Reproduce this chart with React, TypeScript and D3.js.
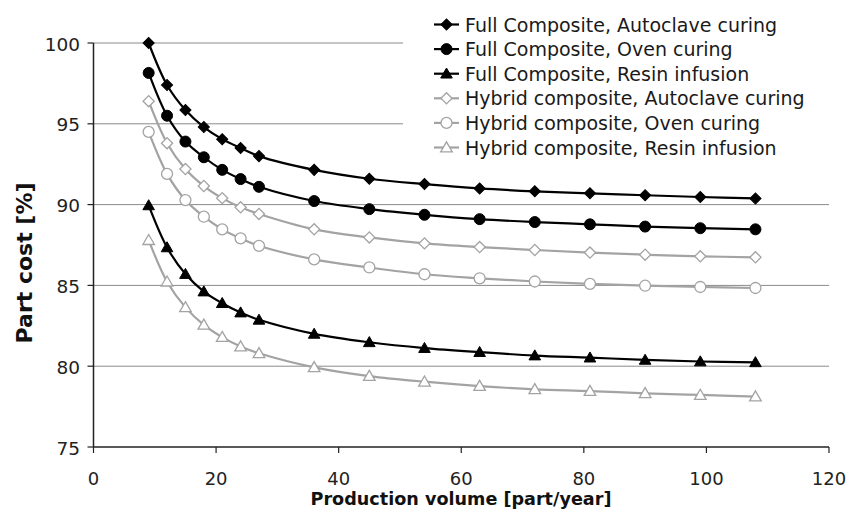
import { useMemo } from "react";
import * as d3 from "d3";

const volumes = [9, 12, 15, 18, 21, 24, 27, 36, 45, 54, 63, 72, 81, 90, 99, 108];

const fullAutoclave = [100, 97.4, 95.85, 94.8, 94.05, 93.5, 93.0, 92.15, 91.6, 91.27, 91.0, 90.82, 90.7, 90.58, 90.47, 90.38];
const fullOven = [98.15, 95.5, 93.9, 92.93, 92.15, 91.58, 91.1, 90.22, 89.72, 89.37, 89.1, 88.92, 88.78, 88.64, 88.54, 88.47];
const fullResin = [89.95, 87.35, 85.7, 84.62, 83.9, 83.32, 82.87, 82.0, 81.48, 81.12, 80.87, 80.66, 80.53, 80.39, 80.29, 80.24];
const hybridAutoclave = [96.4, 93.8, 92.2, 91.15, 90.4, 89.83, 89.42, 88.47, 87.97, 87.6, 87.37, 87.19, 87.03, 86.9, 86.8, 86.74];
const hybridOven = [94.5, 91.9, 90.28, 89.25, 88.47, 87.91, 87.45, 86.61, 86.11, 85.69, 85.44, 85.24, 85.09, 84.98, 84.9, 84.84];
const hybridResin = [87.8, 85.23, 83.64, 82.56, 81.8, 81.22, 80.8, 79.93, 79.39, 79.04, 78.77, 78.57, 78.46, 78.32, 78.22, 78.12];

const seriesNames = [
  "Full Composite, Autoclave curing",
  "Full Composite, Oven curing",
  "Full Composite, Resin infusion",
  "Hybrid composite, Autoclave curing",
  "Hybrid composite, Oven curing",
  "Hybrid composite, Resin infusion",
];
const seriesValues = [fullAutoclave, fullOven, fullResin, hybridAutoclave, hybridOven, hybridResin];
const seriesMarkers = ["diamond", "circle", "triangle", "diamond", "circle", "triangle"];
const seriesHollow = [false, false, false, true, true, true];

const xTicks = [0, 20, 40, 60, 80, 100, 120];
const yTicks = [75, 80, 85, 90, 95, 100];

const WIDTH = 858;
const HEIGHT = 512;
const FONT = "'DejaVu Sans', Verdana, sans-serif";
const BLACK = "#000";
const GREY = "#a3a3a3";

const markerPath = (kind: string) => {
  if (kind === "diamond") return d3.symbol().type(d3.symbolSquare).size(62)() as string;
  if (kind === "circle") return d3.symbol().type(d3.symbolCircle).size(95)() as string;
  return d3.symbol().type(d3.symbolTriangle).size(58)() as string;
};

const Marker = ({ kind, hollow, x, y }: { kind: string; hollow: boolean; x: number; y: number }) => {
  const rot = kind === "diamond" ? " rotate(45)" : "";
  const dy = kind === "triangle" ? 1 : 0;
  return (
    <path
      d={markerPath(kind)}
      transform={`translate(${x},${y + dy})${rot}`}
      fill={hollow ? "#fff" : BLACK}
      stroke={hollow ? GREY : BLACK}
      strokeWidth={hollow ? 1.3 : 1}
    />
  );
};

const App = () => {
  const x = d3.scaleLinear().domain([0, 120]).range([93.5, 829]);
  const y = d3.scaleLinear().domain([75, 100]).range([447, 43]);

  const line = useMemo(
    () =>
      d3
        .line<number>()
        .x((_, i) => x(volumes[i]))
        .y((d) => y(d))
        .curve(d3.curveCatmullRom.alpha(0.5)),
    []
  );

  return (
    <svg
      width={WIDTH}
      height={HEIGHT}
      style={{ position: "absolute", left: 0, top: 0, background: "#fff" }}
      fontFamily={FONT}
    >
      {/* gridlines */}
      {yTicks.filter((t) => t > 75).map((t) => (
        <line key={t} x1={x(0)} x2={x(120)} y1={y(t)} y2={y(t)} stroke="#8a8a8a" strokeWidth={1} />
      ))}

      {/* legend background hides part of the top gridlines */}
      <rect x={403} y={4} width={430} height={158} fill="#fff" />

      {/* axes */}
      <line x1={x(0)} x2={x(0)} y1={y(100)} y2={y(75)} stroke="#222" strokeWidth={1.5} />
      <line x1={x(0)} x2={x(120)} y1={y(75)} y2={y(75)} stroke="#222" strokeWidth={1.5} />
      {yTicks.map((t) => (
        <g key={t}>
          <line x1={x(0) - 6} x2={x(0)} y1={y(t)} y2={y(t)} stroke="#222" strokeWidth={1.2} />
          <text x={80} y={y(t) + 7.5} textAnchor="end" fontSize={18.5} fill="#222">
            {t}
          </text>
        </g>
      ))}
      {xTicks.map((t) => (
        <g key={t}>
          <line x1={x(t)} x2={x(t)} y1={y(75)} y2={y(75) + 6} stroke="#222" strokeWidth={1.2} />
          <text x={x(t)} y={485} textAnchor="middle" fontSize={18} fill="#222">
            {t}
          </text>
        </g>
      ))}

      {/* axis titles */}
      <text x={461} y={505} textAnchor="middle" fontSize={17.6} fontWeight="bold" fill="#111">
        Production volume [part/year]
      </text>
      <text
        transform="translate(32,263) rotate(-90)"
        textAnchor="middle"
        fontSize={22}
        fontWeight="bold"
        fill="#111"
      >
        Part cost [%]
      </text>

      {/* series: grey ones first so black sit on top */}
      {[3, 4, 5, 0, 1, 2].map((s) => {
        const color = seriesHollow[s] ? GREY : BLACK;
        return (
          <g key={s}>
            <path d={line(seriesValues[s]) as string} fill="none" stroke={color} strokeWidth={2.2} />
            {seriesValues[s].map((v, i) => (
              <Marker key={i} kind={seriesMarkers[s]} hollow={seriesHollow[s]} x={x(volumes[i])} y={y(v)} />
            ))}
          </g>
        );
      })}

      {/* legend */}
      {seriesNames.map((name, i) => {
        const ly = 24.5 + i * 24.6;
        const color = seriesHollow[i] ? GREY : BLACK;
        return (
          <g key={name}>
            <line x1={434} x2={459} y1={ly} y2={ly} stroke={color} strokeWidth={2.2} />
            <Marker kind={seriesMarkers[i]} hollow={seriesHollow[i]} x={446.5} y={ly} />
            <text x={465} y={ly + 7} fontSize={19} fill="#1a1a1a">
              {name}
            </text>
          </g>
        );
      })}
    </svg>
  );
};

export default App;
